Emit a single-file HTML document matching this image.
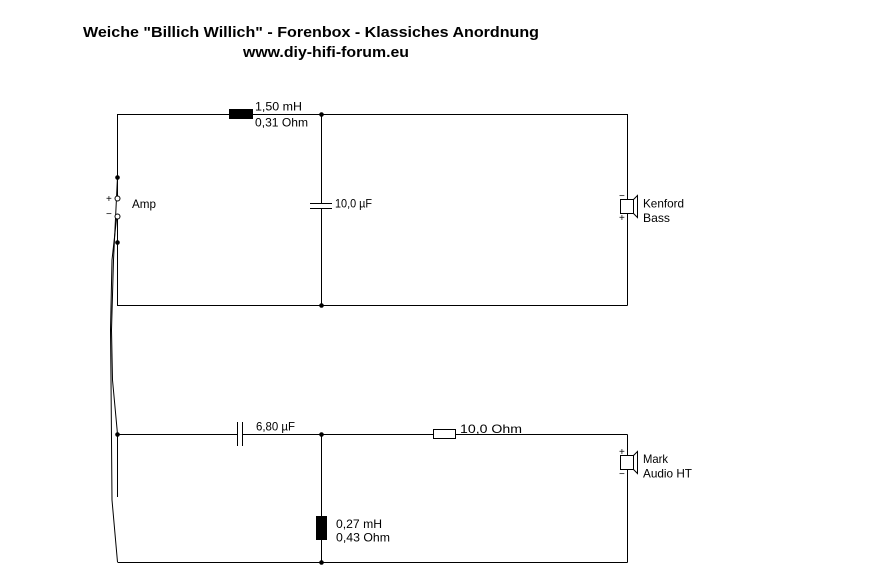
<!DOCTYPE html>
<html><head><meta charset="utf-8"><style>
html,body{margin:0;padding:0;background:#fff;}
svg{display:block;}
text{font-family:"Liberation Sans",Arial,sans-serif;fill:#000;}
.l{font-size:12px;}
.t{font-size:15px;font-weight:bold;}
</style></head><body>
<svg width="892" height="580" viewBox="0 0 892 580" xmlns="http://www.w3.org/2000/svg">
<rect width="892" height="580" fill="#fff"/>
<text class="t" x="83" y="37" textLength="456" lengthAdjust="spacingAndGlyphs">Weiche  "Billich Willich" - Forenbox - Klassiches Anordnung</text>
<text class="t" x="243" y="57" textLength="166" lengthAdjust="spacingAndGlyphs">www.diy-hifi-forum.eu</text>

<g stroke="#000" stroke-width="1" fill="none">
<!-- bass section -->
<polyline points="117.5,177 117.5,114.5 627.5,114.5 627.5,199"/>
<line x1="627.5" y1="213" x2="627.5" y2="305.5"/>
<polyline points="117.5,242 117.5,305.5 627.5,305.5"/>
<line x1="321.5" y1="114.5" x2="321.5" y2="203.5"/>
<line x1="321.5" y1="208.5" x2="321.5" y2="305.5"/>
<line x1="310" y1="203.5" x2="332" y2="203.5"/>
<line x1="310" y1="208.5" x2="332" y2="208.5"/>
<!-- amp terminals wiring -->
<line x1="117.5" y1="177" x2="117.5" y2="196"/>
<line x1="117.5" y1="219" x2="117.5" y2="242"/>
<polyline points="117.5,177 113.5,260 111.5,330 112.5,380 117.5,434 117.5,497"/>
<polyline points="116.5,219 112,260 110.5,330 111,380 112,500 117.5,562"/>
<!-- tweeter section -->
<line x1="117.5" y1="434.5" x2="237.5" y2="434.5"/>
<line x1="242.5" y1="434.5" x2="433" y2="434.5"/>
<line x1="456" y1="434.5" x2="627.5" y2="434.5"/>
<line x1="237.5" y1="422" x2="237.5" y2="446"/>
<line x1="242.5" y1="422" x2="242.5" y2="446"/>
<rect x="433.5" y="429.5" width="22" height="9" fill="#fff"/>
<line x1="627.5" y1="434.5" x2="627.5" y2="455"/>
<line x1="627.5" y1="469" x2="627.5" y2="562.5"/>
<line x1="321.5" y1="434.5" x2="321.5" y2="516"/>
<line x1="321.5" y1="539" x2="321.5" y2="562.5"/>
<line x1="117.5" y1="562.5" x2="627.5" y2="562.5"/>
<!-- speakers -->
<rect x="620.5" y="199.5" width="13" height="14" fill="#fff"/>
<polyline points="633.5,199.5 637.5,195.5 637.5,217.5 633.5,213.5"/>
<rect x="620.5" y="455.5" width="13" height="14" fill="#fff"/>
<polyline points="633.5,455.5 637.5,451.5 637.5,473.5 633.5,469.5"/>
<!-- amp terminal circles -->
<circle cx="117.5" cy="198.5" r="2.5" fill="#fff"/>
<circle cx="117.5" cy="216.5" r="2.5" fill="#fff"/>
</g>
<!-- inductors -->
<rect x="229" y="109" width="24" height="10" fill="#000"/>
<rect x="316" y="516" width="11" height="24" fill="#000"/>
<!-- nodes -->
<g fill="#000">
<circle cx="117.5" cy="177.5" r="2.3"/>
<circle cx="117.5" cy="242.5" r="2.3"/>
<circle cx="321.5" cy="114.5" r="2.3"/>
<circle cx="321.5" cy="305.5" r="2.3"/>
<circle cx="117.5" cy="434.5" r="2.3"/>
<circle cx="321.5" cy="434.5" r="2.3"/>
<circle cx="321.5" cy="562.5" r="2.3"/>
</g>
<!-- polarity marks -->
<g font-size="10">
<text x="106" y="202" style="font-size:10px">+</text>
<text x="106" y="217" style="font-size:10px">−</text>
<text x="619" y="199" style="font-size:10px">−</text>
<text x="619" y="221" style="font-size:10px">+</text>
<text x="619" y="455" style="font-size:10px">+</text>
<text x="619" y="477" style="font-size:10px">−</text>
</g>
<!-- labels -->
<text class="l" x="255" y="110.5" textLength="47" lengthAdjust="spacingAndGlyphs">1,50 mH</text>
<text class="l" x="255" y="126.5" textLength="53" lengthAdjust="spacingAndGlyphs">0,31 Ohm</text>
<text class="l" x="132" y="208" textLength="24" lengthAdjust="spacingAndGlyphs">Amp</text>
<text class="l" x="335" y="207.5" textLength="37" lengthAdjust="spacingAndGlyphs">10,0 µF</text>
<text class="l" x="643" y="207.5" textLength="41" lengthAdjust="spacingAndGlyphs">Kenford</text>
<text class="l" x="643" y="222" textLength="27" lengthAdjust="spacingAndGlyphs">Bass</text>
<text class="l" x="256" y="430.5" textLength="39" lengthAdjust="spacingAndGlyphs">6,80 µF</text>
<text class="l" x="460" y="433" textLength="62" lengthAdjust="spacingAndGlyphs">10,0 Ohm</text>
<text class="l" x="643" y="463" textLength="25" lengthAdjust="spacingAndGlyphs">Mark</text>
<text class="l" x="643" y="477.5" textLength="49" lengthAdjust="spacingAndGlyphs">Audio HT</text>
<text class="l" x="336" y="528" textLength="46" lengthAdjust="spacingAndGlyphs">0,27 mH</text>
<text class="l" x="336" y="541.5" textLength="54" lengthAdjust="spacingAndGlyphs">0,43 Ohm</text>
</svg>
</body></html>
